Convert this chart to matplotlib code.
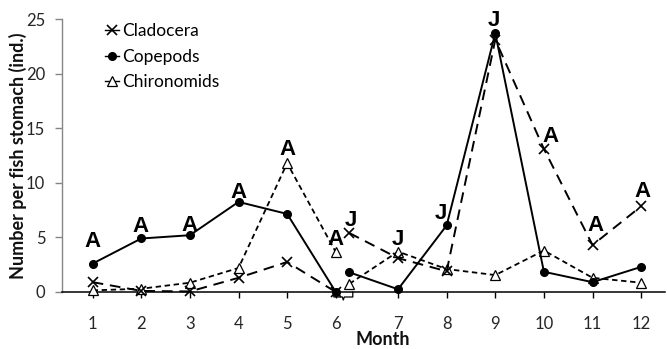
import matplotlib
matplotlib.use("Agg")
import matplotlib.pyplot as plt
from matplotlib.lines import Line2D

# ---- data ----
months = list(range(1, 13))
months_a = [1, 2, 3, 4, 5, 6]
months_j = [6, 7, 8, 9, 10, 11, 12]

cladocera_a = [0.9, 0.1, 0.05, 1.3, 2.75, 0.0]
copepods_a = [2.6, 4.9, 5.2, 8.25, 7.15, 0.0]
chironomids_a = [0.15, 0.3, 0.85, 2.2, 11.8, 3.65]

cladocera_j = [5.4, 3.1, 1.9, 23.1, 13.1, 4.3, 7.85]
copepods_j = [1.8, 0.25, 6.1, 23.7, 1.85, 0.9, 2.3]
chironomids_j = [0.75, 3.7, 2.1, 1.55, 3.8, 1.3, 0.85]

series_names = ["Cladocera", "Copepods", "Chironomids"]

# labels: (letter, segment, month, series anchor, dx px, dy px)
labels = [
    ("A", "a", 1, "Copepods", 0, 17),
    ("A", "a", 2, "Copepods", -1, 6),
    ("A", "a", 3, "Copepods", 0, 4),
    ("A", "a", 4, "Copepods", 0, 4),
    ("A", "a", 5, "Chironomids", 0, 8),
    ("A", "a", 6, "Chironomids", 0, 7),
    ("J", "j", 6, "Cladocera", 1, 7),
    ("J", "j", 7, "Chironomids", 0, 7),
    ("J", "j", 8, "Copepods", -6, 6),
    ("J", "j", 9, "Copepods", -1, 7),
    ("A", "j", 10, "Cladocera", 7, 7),
    ("A", "j", 11, "Cladocera", 3, 14),
    ("A", "j", 12, "Cladocera", 1, 9),
]

GAP = 0.28  # horizontal offset of the second segment


def pos_a(m):
    return m


def pos_j(m):
    return m + GAP


fig = plt.figure(figsize=(6.67, 3.49), dpi=100)
ax = fig.add_axes([62 / 667, 57 / 349, 603 / 667, 273 / 349])

styles = {
    "Cladocera": dict(color="black", lw=1.4, ls=(0, (5.5, 3.5)), marker="x",
                      ms=6.5, mew=1.2, mfc="black", mec="black"),
    "Copepods": dict(color="black", lw=1.4, ls="-", marker="o",
                     ms=5.5, mfc="black", mec="black"),
    "Chironomids": dict(color="black", lw=1.3, ls=(0, (3, 2)), marker="^",
                        ms=6.5, mew=0.9, mfc="white", mec="black"),
}

data_a = {"Cladocera": cladocera_a, "Copepods": copepods_a, "Chironomids": chironomids_a}
data_j = {"Cladocera": cladocera_j, "Copepods": copepods_j, "Chironomids": chironomids_j}

for name in ["Chironomids", "Cladocera", "Copepods"]:
    ax.plot([pos_a(m) for m in months_a], data_a[name], clip_on=False, zorder=3, **styles[name])
    ax.plot([pos_j(m) for m in months_j], data_j[name], clip_on=False, zorder=3, **styles[name])

for letter, seg, m, sname, dx, dy in labels:
    if seg == "a":
        x = pos_a(m)
        y = data_a[sname][months_a.index(m)]
    else:
        x = pos_j(m)
        y = data_j[sname][months_j.index(m)]
    ax.annotate(letter, xy=(x, y), xytext=(dx, dy), textcoords="offset pixels",
                ha="center", va="baseline", fontsize=16, fontweight="bold",
                family="Liberation Sans", zorder=5)

ax.set_xlim(0.37, 12 + GAP + 0.49)
ax.set_ylim(0, 25)

tick_pos = [pos_a(m) if m <= 6 else pos_j(m) for m in months]
ax.set_xticks(tick_pos)
ax.set_xticklabels([str(m) for m in months])
ax.set_yticks([0, 5, 10, 15, 20, 25])

for s in ["top", "right"]:
    ax.spines[s].set_visible(False)
ax.spines["left"].set_linewidth(1.0)
ax.spines["left"].set_color("#868686")
ax.spines["bottom"].set_linewidth(1.1)
ax.spines["bottom"].set_color("black")

ax.tick_params(axis="both", direction="out", length=4, width=1.0,
               labelsize=12, labelcolor="#262626")
ax.tick_params(axis="x", pad=13, color="black")
ax.tick_params(axis="y", pad=7, length=5, color="#868686")
for lab in ax.get_xticklabels() + ax.get_yticklabels():
    lab.set_family("Lato")

# axis break symbol
bx0 = 6 - 0.04
bx1 = 6 + 0.35
bm = (bx0 + bx1) / 2
u = 1 / 10.92
bxs = [bx0, bx0, bm - 0.02, bm, bm + 0.02, bx1, bx1]
bys = [0, -5 * u, -5 * u, -8 * u, -5 * u, -5 * u, 0]
ax.plot(bxs, bys, color="black", lw=0.9, clip_on=False, zorder=2)

ax.set_ylabel("Number per fish stomach (ind.)", family="Lato", fontweight="bold",
              fontsize=13, color="#111111")
ax.yaxis.set_label_coords(-(62 - 27) / 603, 0.5)
ax.set_xlabel("Month", family="Lato", fontweight="bold", fontsize=13, color="#111111")
ax.xaxis.set_label_coords((383 - 62) / 603, -(331 - 292) / 273)

handles = [Line2D([0], [0], **styles[n]) for n in series_names]
for h in handles:
    h.set_linestyle("-")
    h.set_linewidth(1.0)
leg = ax.legend(handles, series_names, loc="upper left", bbox_to_anchor=(0.06, 1.01),
                frameon=False, handlelength=0.8, handletextpad=0.2, labelspacing=0.55,
                prop={"family": "Lato", "size": 12.5}, borderaxespad=0)

fig.savefig("out.png", dpi=100)
